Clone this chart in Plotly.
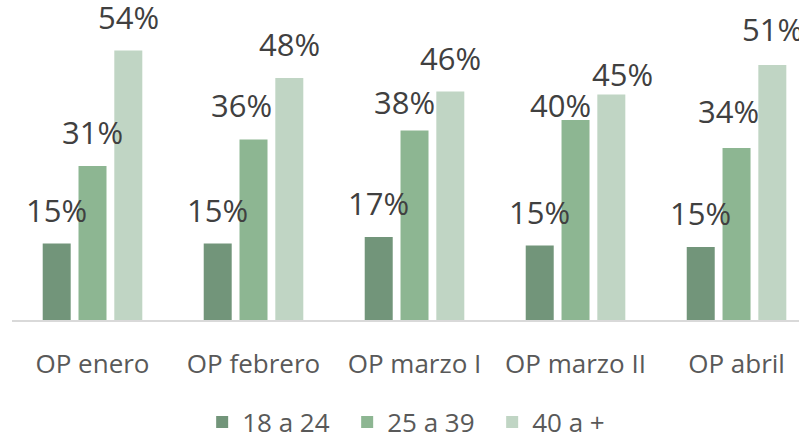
import plotly.graph_objects as go

categories = ["OP enero", "OP febrero", "OP marzo I", "OP marzo II", "OP abril"]
series_names = ["18 a 24", "25 a 39", "40 a +"]
v_18_24 = [15.3, 15.3, 16.6, 14.9, 14.6]
v_25_39 = [30.8, 36.1, 37.9, 40.0, 34.4]
v_40_mas = [53.9, 48.4, 45.7, 45.1, 51.0]
colors = ["#72957a", "#8db692", "#c0d5c4"]

FONT = "Open Sans"
BAR_PITCH_PX = 35.8  # distance between bar centres within a group (px)
LABEL_YSHIFT = 11    # default label lift above bar end (px)
# manual nudges of some data labels, as in the source chart: (series, category) -> (dx, dy) px
label_nudges = {
    (1, 1): (-12, 1),
    (1, 2): (-10, -5),
    (1, 3): (-15, -19),
    (2, 3): (11, -13),
    (1, 4): (-8, 3),
    (2, 4): (0, 2),
    (2, 0): (0, -1),
}

fig = go.Figure()
all_series = [v_18_24, v_25_39, v_40_mas]
for i, (name, vals, col) in enumerate(zip(series_names, all_series, colors)):
    fig.add_trace(go.Bar(
        x=categories, y=vals, name=name,
        marker=dict(color=col, line=dict(width=0)),
        hoverinfo="x+y+name",
    ))
    for j, (cat, v) in enumerate(zip(categories, vals)):
        dx, dy = label_nudges.get((i, j), (0, 0))
        fig.add_annotation(
            x=cat, y=v, xref="x", yref="y",
            text=f"{round(v):d}%", showarrow=False,
            xanchor="center", yanchor="bottom",
            xshift=(i - 1) * BAR_PITCH_PX + dx, yshift=LABEL_YSHIFT + dy,
            font=dict(family=FONT, size=31, color="#404040"),
        )

fig.update_layout(
    width=799, height=446,
    margin=dict(l=12, r=0, t=20, b=120),
    paper_bgcolor="white", plot_bgcolor="white",
    barmode="group", bargap=0.333, bargroupgap=0.218,
    showlegend=True,
    legend=dict(orientation="h", x=0.518, xanchor="center", y=-0.34, yanchor="middle",
                font=dict(family=FONT, size=26, color="#595959"),
                entrywidth=100, entrywidthmode="pixels",
                itemclick=False, itemdoubleclick=False),
    xaxis=dict(range=[-0.5, 4.388], showline=True, linecolor="#d9d9d9", linewidth=2,
               ticks="", showgrid=False, ticklabelstandoff=20, automargin=False,
               tickfont=dict(family=FONT, size=26, color="#595959")),
    yaxis=dict(range=[0, 60], visible=False, showgrid=False, automargin=False),
)
fig.write_html("out.html", config={"displayModeBar": False},
               post_script="document.body.style.margin='0';document.body.style.overflow='hidden';")
